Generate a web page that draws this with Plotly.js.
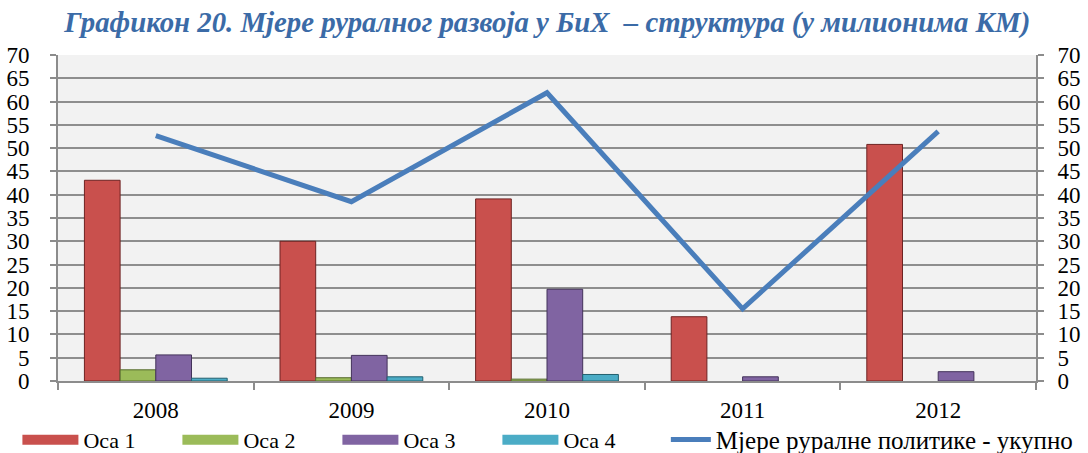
<!DOCTYPE html>
<html>
<head>
<meta charset="utf-8">
<script src="https://cdn.plot.ly/plotly-3.0.1.min.js"></script>
<style>html,body{margin:0;padding:0;background:#fff;}#chart{width:1088px;height:453px;}</style>
</head>
<body>
<div id="chart"></div>
<script>
var years = ['2008', '2009', '2010', '2011', '2012'];
var seriesNames = ['Оса 1', 'Оса 2', 'Оса 3', 'Оса 4'];
var osa1 = [43.1, 30.0, 39.1, 13.8, 50.8];
var osa2 = [2.4, 0.7, 0.4, null, null];
var osa3 = [5.6, 5.5, 19.7, 0.9, 2.0];
var osa4 = [0.6, 0.9, 1.4, null, null];
var totalName = 'Мјере руралне политике - укупно';
var total = [52.7, 38.5, 61.9, 15.5, 53.6];
var yTicks = [0, 5, 10, 15, 20, 25, 30, 35, 40, 45, 50, 55, 60, 65, 70];

var barColors = ['#C9504D', '#9BBB59', '#8064A2', '#4BACC6'];
var barEdges = ['#6E2322', '#55692C', '#43325A', '#23606F'];
var seriesVals = [osa1, osa2, osa3, osa4];
var font = 'Liberation Serif, Times New Roman, serif';

var traces = [];
seriesVals.forEach(function (vals, i) {
  traces.push({
    type: 'bar', x: years, y: vals, name: seriesNames[i],
    marker: {color: barColors[i], line: {color: barEdges[i], width: 1}},
    showlegend: false, legendgroup: 'g' + i, hoverinfo: 'y'
  });
});
seriesVals.forEach(function (vals, i) {
  traces.push({
    type: 'scatter', mode: 'lines', x: [null], y: [null], name: seriesNames[i],
    line: {color: barColors[i], width: 10}, legendgroup: 'g' + i, showlegend: true,
    legend: 'legend'
  });
});
traces.push({
  type: 'scatter', mode: 'lines', x: years, y: total, name: totalName, yaxis: 'y2',
  line: {color: '#4A7EBB', width: 5}, legend: 'legend2'
});

var axisCommon = {
  range: [0, 70], tickvals: yTicks, ticktext: yTicks.map(String),
  ticks: 'outside', ticklen: 6, tickwidth: 2, tickcolor: '#8C8C8C',
  showline: true, linecolor: '#8C8C8C', linewidth: 2,
  tickfont: {family: font, size: 23, color: '#000'}, fixedrange: true
};

var layout = {
  width: 1088, height: 453,
  margin: {l: 58, r: 52, t: 55, b: 72, pad: 0, autoexpand: false},
  paper_bgcolor: '#FFFFFF', plot_bgcolor: '#F2F2F2',
  title: {
    text: 'Графикон 20. Мјере руралног развоја у БиХ  – структура (у милионима КМ)',
    font: {family: font, size: 28.8, color: '#3B6BA7', weight: 'bold', style: 'italic'},
    x: 0.503, xanchor: 'center', y: 0.951, yanchor: 'middle'
  },
  barmode: 'group', bargap: 0.27, bargroupgap: 0,
  xaxis: {
    type: 'category', tickson: 'boundaries', ticks: 'outside', ticklen: 7, tickwidth: 2,
    tickcolor: '#8C8C8C', showline: true, linecolor: '#8C8C8C', linewidth: 2,
    showgrid: false, tickfont: {family: font, size: 23, color: '#000'}, ticklabelstandoff: 7
  },
  yaxis: Object.assign({}, axisCommon, {
    side: 'left', showgrid: true, gridcolor: '#8E8E8E', gridwidth: 2, ticklabelstandoff: 16
  }),
  yaxis2: Object.assign({}, axisCommon, {
    side: 'right', overlaying: 'y', showgrid: false, ticklabelstandoff: 9
  }),
  showlegend: true,
  legend: {
    orientation: 'h', xref: 'container', yref: 'container',
    x: 0.016, xanchor: 'left', y: 0.029, yanchor: 'middle',
    font: {family: font, size: 22, color: '#000'}, traceorder: 'normal',
    itemwidth: 56, entrywidth: 89, entrywidthmode: 'pixels',
    tracegroupgap: 0, bgcolor: 'rgba(0,0,0,0)'
  },
  legend2: {
    orientation: 'h', xref: 'container', yref: 'container',
    x: 0.612, xanchor: 'left', y: 0.029, yanchor: 'middle',
    font: {family: font, size: 25, color: '#000'},
    itemwidth: 40, bgcolor: 'rgba(0,0,0,0)'
  }
};

Plotly.newPlot('chart', traces, layout, {displayModeBar: false, staticPlot: true});
</script>
</body>
</html>
